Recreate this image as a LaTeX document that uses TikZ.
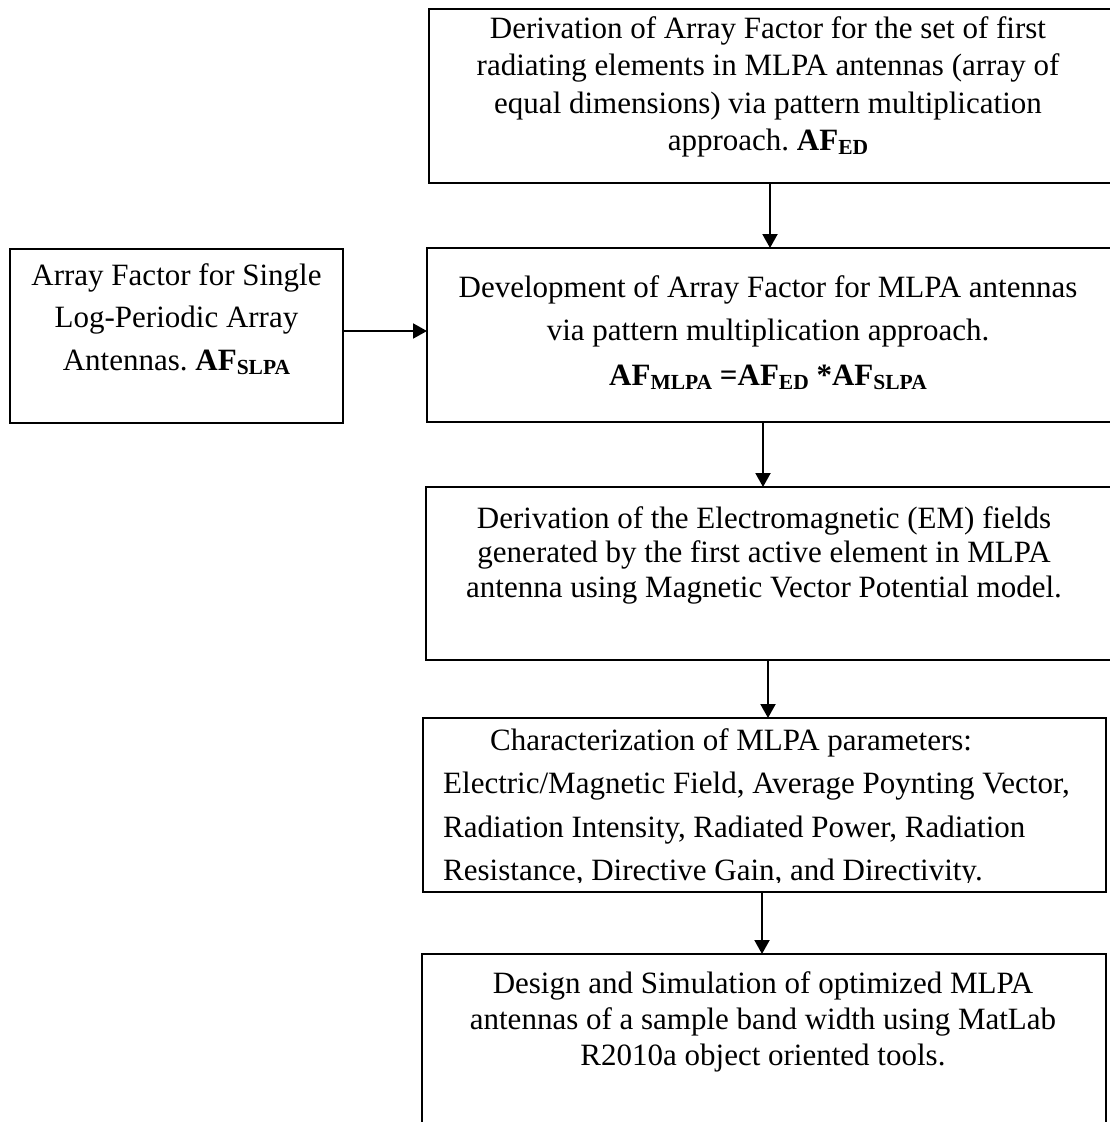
\documentclass[tikz,border=0pt]{standalone}
\usepackage{fontspec}
\setmainfont{Liberation Serif}
\usetikzlibrary{arrows.meta}
% bold lowered subscript used in the array-factor symbols
\newcommand{\bsub}[1]{\raisebox{-4pt}{\fontsize{21.5}{21.5}\selectfont\bfseries #1}}
% fixes the height of the first line so that node tops are predictable
\newcommand{\firstline}{\rule{0pt}{24pt}}

\begin{document}
\frenchspacing
\begin{tikzpicture}[x=1pt,y=-1pt,
  box/.style={draw, line width=2.6pt, anchor=north west, inner sep=0pt, outer sep=0pt},
  txt/.style={font=\fontsize{31}{#1}\selectfont, align=center, inner sep=0pt, anchor=north},
  conn/.style={line width=2pt, -{Triangle[length=14pt,width=15pt]}}]
\useasboundingbox (0,0) rectangle (1109,1122);

% boxes
\node[box, minimum width=686pt, minimum height=174pt] (ed)   at (429,9)   {};
\node[box, minimum width=333pt, minimum height=174pt] (slpa) at (10,249)  {};
\node[box, minimum width=688pt, minimum height=174pt] (mlpa) at (427,248) {};
\node[box, minimum width=689pt, minimum height=173pt] (em)   at (426,487) {};
\node[box, minimum width=683pt, minimum height=174pt] (par)  at (423,718) {};
\node[box, minimum width=684pt, minimum height=185pt] (sim)  at (422,954) {};

% texts
\node[txt=37.5] (edtext) at (768,14)
  {\firstline Derivation of Array Factor for the set of first\\
   radiating elements in MLPA antennas (array of\\
   equal dimensions) via pattern multiplication\\
   approach. \textbf{AF}\bsub{ED}};
\node[txt=42.5] (slpatext) at (176.5,261)
  {\firstline Array Factor for Single\\
   Log-Periodic Array\\
   Antennas. \textbf{AF}\bsub{SLPA}};
\node[txt=43] (mlpatext) at (768,273)
  {\firstline Development of Array Factor for MLPA antennas\\
   via pattern multiplication approach.\\[2pt]
   \textbf{AF}\bsub{MLPA} \textbf{=AF}\bsub{ED} \textbf{*AF}\bsub{SLPA}};
\node[txt=34.5] (emtext) at (764,504)
  {\firstline Derivation of the Electromagnetic (EM) fields\\
   generated by the first active element in MLPA\\
   antenna using Magnetic Vector Potential model.};
\begin{scope}
  \clip (423,718) rectangle (1106,882);
  \node[txt=43.5, align=left, anchor=north west] (partext) at (443,726)
    {\firstline\hspace*{47pt}Characterization of MLPA parameters:\\
     Electric/Magnetic Field, Average Poynting Vector,\\
     Radiation Intensity, Radiated Power, Radiation\\
     Resistance, Directive Gain, and Directivity.};
\end{scope}
\node[txt=36] (simtext) at (763,969)
  {\firstline Design and Simulation of optimized MLPA\\
   antennas of a sample band width using MatLab\\
   R2010a object oriented tools.};

% connectors
\draw[conn] (ed.south -| 770,0)   -- (mlpa.north -| 770,0);
\draw[conn] (slpa.east |- 0,331)  -- (mlpa.west |- 0,331);
\draw[conn] (mlpa.south -| 763,0) -- (em.north -| 763,0);
\draw[conn] (em.south -| 768,0)   -- (par.north -| 768,0);
\draw[conn] (par.south -| 762,0)  -- (sim.north -| 762,0);
\end{tikzpicture}
\end{document}
